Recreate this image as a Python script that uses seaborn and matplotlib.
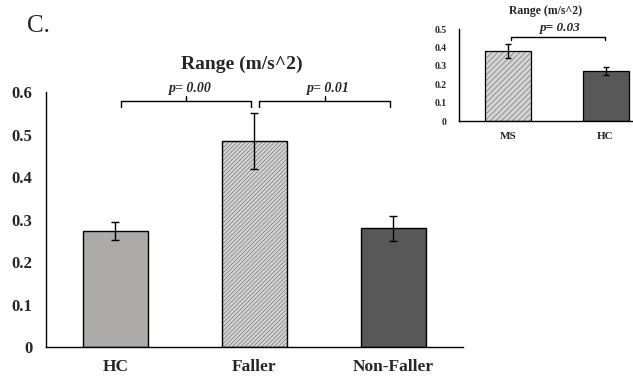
import matplotlib
matplotlib.use("Agg")
import matplotlib.pyplot as plt
import seaborn as sns
import pandas as pd
from matplotlib.patches import Rectangle

# Data
groups = ["HC", "Faller", "Non-Faller"]
means = [0.273, 0.485, 0.279]
errs = [0.021, 0.065, 0.029]
colors = ["#aeaaa9", "#d4d4d4", "#585858"]
pvals = ["p= 0.00", "p= 0.01"]
yticks = [0, 0.1, 0.2, 0.3, 0.4, 0.5, 0.6]

inset_groups = ["MS", "HC"]
inset_means = [0.38, 0.272]
inset_errs = [0.04, 0.02]
inset_colors = ["#d4d4d4", "#585858"]
inset_p = "p= 0.03"
inset_yticks = [0, 0.1, 0.2, 0.3, 0.4, 0.5]

sns.set_style("white")
plt.rcParams["font.family"] = ["Liberation Serif", "DejaVu Serif"]
plt.rcParams["hatch.linewidth"] = 0.5

fig = plt.figure(figsize=(6.33, 3.77), dpi=100)

def style_ax(ax):
    for s in ["top", "right"]:
        ax.spines[s].set_visible(False)
    for s in ["left", "bottom"]:
        ax.spines[s].set_color("black")
        ax.spines[s].set_linewidth(1.0)
    ax.tick_params(length=0)
    ax.set_xlabel("")
    ax.set_ylabel("")

def draw_bars(ax, cats, vals, errv, cols, hatch_idx, width, capsize, lw, hatch):
    df = pd.DataFrame({"g": cats, "v": vals})
    sns.barplot(data=df, x="g", y="v", hue="g", palette=cols, legend=False,
                width=width, edgecolor="black", linewidth=lw, ax=ax)
    p = ax.patches[hatch_idx]
    p.set_hatch(hatch)
    p.set_edgecolor("#7a7a7a")
    p.set_linewidth(0)
    ax.add_patch(Rectangle(p.get_xy(), p.get_width(), p.get_height(),
                           fill=False, ec="black", lw=lw, zorder=3))
    ax.errorbar(range(len(cats)), vals, yerr=errv, fmt="none", ecolor="black",
                elinewidth=1.0, capsize=capsize, capthick=1.0, zorder=4)

# Main axes
ax = fig.add_axes([0.0727, 0.0796, 0.6583, 0.676])
draw_bars(ax, groups, means, errs, colors, 1, 0.47, 3, 1.0, "////////")
style_ax(ax)
ax.set_xlim(-0.5, 2.5)
ax.set_ylim(0, 0.6)
ax.set_yticks(yticks)
ax.set_yticklabels([("%g" % t) for t in yticks], fontsize=12, fontweight="bold")
ax.tick_params(axis="y", pad=10)
ax.tick_params(axis="x", pad=9)
for lab in ax.get_xticklabels():
    lab.set_fontsize(12.5)
    lab.set_fontweight("bold")
ax.set_title("Range (m/s^2)", fontsize=14, fontweight="bold", x=0.47, pad=17)

def bracket(ax, x1, x2, y, h, txt, fs, mid=True):
    ax.plot([x1, x1, x2, x2], [y - h, y, y, y - h], color="black", lw=1.0,
            clip_on=False)
    xm = (x1 + x2) / 2
    if mid:
        ax.plot([xm, xm], [y, y + h * 0.8], color="black", lw=1.0, clip_on=False)
    ax.text(xm + 0.03, y + h * 1.0, txt, ha="center", va="bottom", fontsize=fs,
            fontweight="bold", fontstyle="italic")

bracket(ax, 0.04, 0.975, 0.579, 0.015, pvals[0], 10)
bracket(ax, 1.03, 1.98, 0.579, 0.015, pvals[1], 10)

fig.text(0.043, 0.915, "C.", fontsize=18)

# Inset axes
ax2 = fig.add_axes([0.725, 0.679, 0.275, 0.244])
ax2.patch.set_alpha(0)
draw_bars(ax2, inset_groups, inset_means, inset_errs, inset_colors, 0, 0.47, 2, 0.9, "//////")
style_ax(ax2)
ax2.set_xlim(-0.5, 1.28)
ax2.set_ylim(0, 0.5)
ax2.set_yticks(inset_yticks)
ax2.set_yticklabels([("%g" % t) for t in inset_yticks], fontsize=7, fontweight="bold")
ax2.tick_params(axis="y", pad=9)
ax2.tick_params(axis="x", pad=8)
for lab in ax2.get_xticklabels():
    lab.set_fontsize(8)
    lab.set_fontweight("bold")
ax2.set_title("Range (m/s^2)", fontsize=8.5, fontweight="bold", x=0.5, pad=11)
bracket(ax2, 0.03, 0.99, 0.457, 0.015, inset_p, 9.5, mid=False)

fig.savefig("out.png", dpi=100)
